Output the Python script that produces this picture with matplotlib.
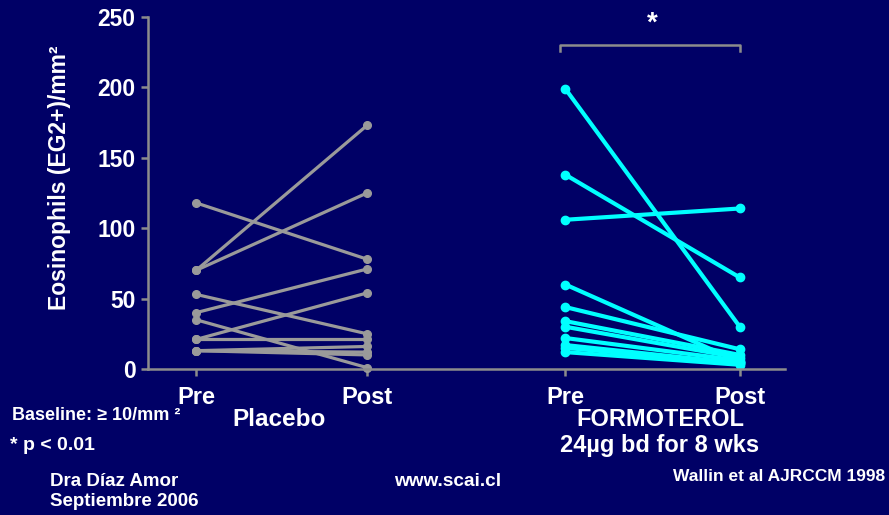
import matplotlib.pyplot as plt

plt.rcParams['font.family'] = ['Liberation Sans', 'DejaVu Sans']

# Eosinophil counts (EG2+ cells/mm2), before and after 8 weeks
placebo_pre = [118, 70, 70, 53, 40, 35, 21, 21, 13, 13, 13]
placebo_post = [78, 173, 125, 25, 71, 1, 54, 21, 16, 12, 10]
formo_pre = [199, 138, 106, 60, 44, 34, 30, 22, 17, 15, 12]
formo_post = [30, 65, 114, 5, 14, 10, 8, 6, 4, 4, 3]

x_pos = [1.0, 2.0, 3.16, 4.18]
x_labels = ['Pre', 'Post', 'Pre', 'Post']
y_ticks = [0, 50, 100, 150, 200, 250]

bg = '#000066'
grey = '#9a9a9a'
axis_grey = '#8c8c8c'
cyan = '#00ffff'

fig = plt.figure(figsize=(8.89, 5.15), dpi=100, facecolor=bg)
ax = fig.add_axes([148 / 889, 1 - 369 / 515, (785 - 148) / 889, (369 - 17) / 515])
ax.set_facecolor(bg)

for a, b in zip(placebo_pre, placebo_post):
    ax.plot(x_pos[0:2], [a, b], color=grey, lw=2.3, marker='o', ms=5.5,
            solid_capstyle='round', clip_on=False)
for a, b in zip(formo_pre, formo_post):
    ax.plot(x_pos[2:4], [a, b], color=cyan, lw=3.0, marker='o', ms=6,
            solid_capstyle='round', clip_on=False)

ax.set_xlim(1 - 48 / 171, 1 + (785 - 196) / 171)
ax.set_ylim(0, 250)
ax.set_xticks(x_pos)
ax.set_xticklabels(x_labels)
ax.set_yticks(y_ticks)

for s in ['top', 'right']:
    ax.spines[s].set_visible(False)
for s in ['left', 'bottom']:
    ax.spines[s].set_color(axis_grey)
    ax.spines[s].set_linewidth(1.8)
ax.tick_params(colors=axis_grey, width=1.8, length=5)
ax.tick_params(axis='x', pad=7, labelsize=17, labelcolor='white')
ax.tick_params(axis='y', pad=4, labelsize=16.5, labelcolor='white')
for lab in ax.get_xticklabels() + ax.get_yticklabels():
    lab.set_fontweight('bold')

# significance bracket over the formoterol group
ax.plot([x_pos[2] - 0.03, x_pos[2] - 0.03, x_pos[3], x_pos[3]],
        [226, 230, 230, 226], color=axis_grey, lw=1.8, clip_on=False)
ax.text((x_pos[2] + x_pos[3]) / 2, 236, '*', color='white', fontsize=20,
        fontweight='bold', ha='center', va='bottom')

fig.text(60 / 889, 1 - 178 / 515, 'Eosinophils (EG2+)/mm²', rotation=90,
         color='white', fontsize=16.5, fontweight='bold', ha='center', va='center')

fig.text(279 / 889, 1 - 426 / 515, 'Placebo', color='white', fontsize=17.5,
         fontweight='bold', ha='center', va='baseline')
fig.text(660 / 889, 1 - 426 / 515, 'FORMOTEROL', color='white', fontsize=17,
         fontweight='bold', ha='center', va='baseline')
fig.text(660 / 889, 1 - 452 / 515, '24µg bd for 8 wks', color='white', fontsize=17,
         fontweight='bold', ha='center', va='baseline')
fig.text(885 / 889, 1 - 481 / 515, 'Wallin et al AJRCCM 1998', color='white',
         fontsize=12.5, fontweight='bold', ha='right', va='baseline')

fig.text(12 / 889, 1 - 420 / 515, 'Baseline: ≥ 10/mm ²', color='white',
         fontsize=13, fontweight='bold', ha='left', va='baseline')
fig.text(10 / 889, 1 - 450 / 515, '* p < 0.01', color='white', fontsize=14,
         fontweight='bold', ha='left', va='baseline')
fig.text(50 / 889, 1 - 486 / 515, 'Dra Díaz Amor', color='white', fontsize=13.5,
         fontweight='bold', ha='left', va='baseline')
fig.text(50 / 889, 1 - 506 / 515, 'Septiembre 2006', color='white', fontsize=13.5,
         fontweight='bold', ha='left', va='baseline')
fig.text(448 / 889, 1 - 486 / 515, 'www.scai.cl', color='white', fontsize=13.7,
         fontweight='bold', ha='center', va='baseline')

fig.savefig('out.png', dpi=100, facecolor=bg)
